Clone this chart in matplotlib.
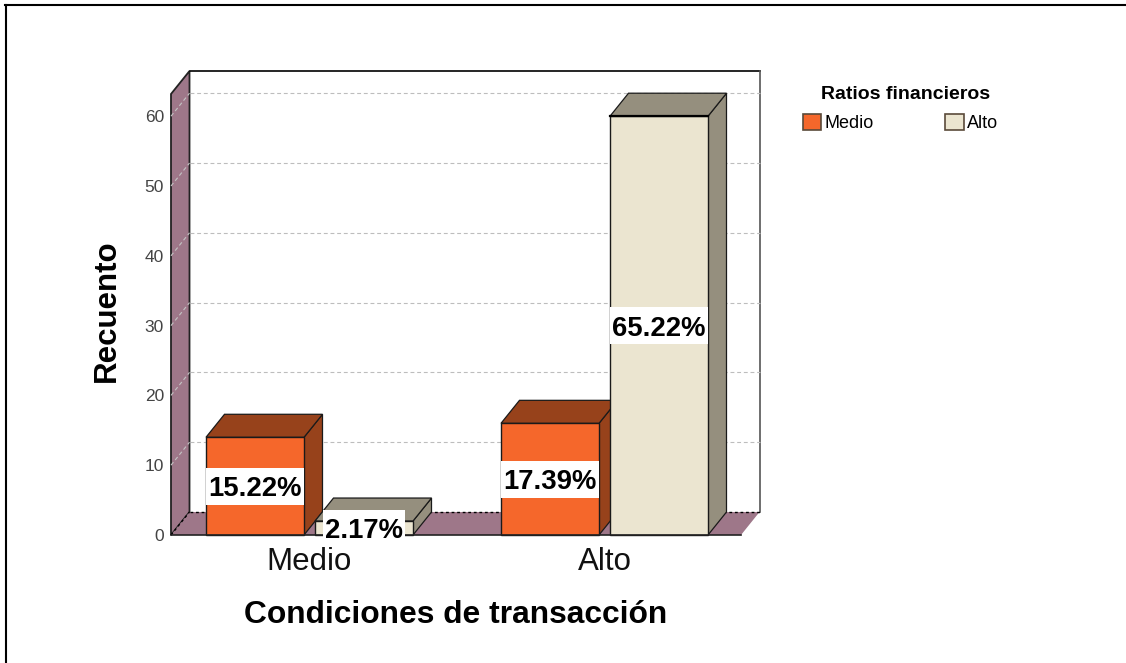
import matplotlib
matplotlib.use("Agg")
import matplotlib.pyplot as plt
from matplotlib.lines import Line2D
from matplotlib.patches import Patch, Polygon, Rectangle

plt.rcParams["font.family"] = ["Liberation Sans", "DejaVu Sans"]

#Categorias y valores
categorias = ["Medio", "Alto"]
series = ["Medio", "Alto"]
recuento_medio = [14, 2]
recuento_alto = [16, 60]
recuento = [recuento_medio, recuento_alto]
etiquetas = [["15.22%", "2.17%"], ["17.39%", "65.22%"]]
yticks = [0, 10, 20, 30, 40, 50, 60]

#Colores: frente, lado y techo de cada serie
frente = ["#F5672B", "#EBE5D0"]
lado = ["#97421B", "#958F7E"]
pared = "#9E7789"

#Medidas en unidades de los ejes
ancho = 98 / 295
sep = 109 / 295 / 2
dx = 18.5 / 295
dy = 23 / 6.98
xmin, xmax = -138.5 / 295, 431.5 / 295
ymax = 441 / 6.98

fig = plt.figure(figsize=(11.26, 6.63), dpi=100)
#Marco de la figura, solo arriba y a la izquierda
fig.add_artist(Line2D([6 / 1126, 6 / 1126], [0, 1 - 5 / 663], color="black", lw=1.5))
fig.add_artist(Line2D([5 / 1126, 1], [1 - 5 / 663, 1 - 5 / 663], color="black", lw=1.5))
ax = fig.add_axes([171 / 1126, 128 / 663, 570 / 1126, 441 / 663])
ax.set_xlim(xmin, xmax)
ax.set_ylim(0, ymax)

#Paredes y piso
ax.add_patch(Polygon([(xmin, 0), (xmin + dx, dy), (xmin + dx, ymax + dy), (xmin, ymax)],
                     fc=pared, ec="#222222", lw=1.3, clip_on=False, zorder=1))
ax.add_patch(Polygon([(xmin, 0), (xmin + dx, dy), (xmax + dx, dy), (xmax, 0)],
                     fc=pared, ec="none", clip_on=False, zorder=1))
ax.plot([xmin + dx, xmax + dx], [ymax + dy, ymax + dy], color="black", lw=1.2, clip_on=False, zorder=1)
ax.plot([xmax + dx, xmax + dx], [dy, ymax + dy], color="#555555", lw=1.2, clip_on=False, zorder=1)
ax.plot([xmin + dx, xmax + dx], [dy, dy], color="black", lw=1, ls=(0, (2, 2)), clip_on=False, zorder=2)
ax.plot([xmin, xmin + dx], [0, dy], color="black", lw=1, ls=(0, (2, 2)), clip_on=False, zorder=2)

#Lineas de la reticula, en la pared del fondo y en la lateral
for t in yticks[1:]:
    ax.plot([xmin + dx, xmax + dx], [t + dy, t + dy], color="#BDBDBD", lw=0.8,
            ls=(0, (3.5, 2.5)), clip_on=False, zorder=2)
    ax.plot([xmin, xmin + dx], [t, t + dy], color="#C4C4C4", lw=0.8,
            ls=(0, (3.5, 2.5)), clip_on=False, zorder=2)

#Barras en 3D
z = 3
for i in range(len(categorias)):
    for j in range(len(series)):
        v = recuento[i][j]
        x0 = i + (j - 0.5) * sep * 2 - ancho / 2
        x1 = x0 + ancho
        ax.add_patch(Polygon([(x1, 0), (x1 + dx, dy), (x1 + dx, v + dy), (x1, v)],
                             fc=lado[j], ec="#1A1A1A", lw=0.9, clip_on=False, zorder=z))
        ax.add_patch(Polygon([(x0, v), (x0 + dx, v + dy), (x1 + dx, v + dy), (x1, v)],
                             fc=lado[j], ec="#1A1A1A", lw=0.9, clip_on=False, zorder=z))
        ax.add_patch(Rectangle((x0, 0), ancho, v, fc=frente[j], ec="#1A1A1A", lw=1.0,
                               clip_on=False, zorder=z))
        #El borde superior de la barra mas alta se ve mas grueso
        if v == max(recuento_alto):
            ax.plot([x0, x1], [v, v], color="black", lw=1.6, clip_on=False, zorder=z)
        z += 1

#Etiquetas de porcentaje con su caja blanca
for i in range(len(categorias)):
    for j in range(len(series)):
        xc = i + (j - 0.5) * sep * 2
        yc = recuento[i][j] / 2
        w = 16.4 * len(etiquetas[i][j]) / 295
        h = 37 / 6.98
        ax.add_patch(Rectangle((xc - w / 2, yc - h / 2), w, h, fc="white", ec="none",
                               clip_on=False, zorder=19))
        ax.text(xc, yc, etiquetas[i][j], ha="center", va="center_baseline",
                fontsize=19.8, fontweight="bold", color="black", zorder=20, clip_on=False)

#Ejes
for s in ["top", "right", "left"]:
    ax.spines[s].set_visible(False)
ax.spines["bottom"].set_color("#222222")
ax.spines["bottom"].set_linewidth(1.2)
ax.spines["bottom"].set_zorder(15)
ax.set_xticks(range(len(categorias)))
ax.set_xticklabels(categorias, fontsize=22.5, color="#111111")
ax.set_yticks(yticks)
ax.set_yticklabels([str(t) for t in yticks], fontsize=12.5, color="#444444")
ax.tick_params(axis="both", length=0)
ax.tick_params(axis="x", pad=9)
ax.tick_params(axis="y", pad=5)
ax.set_xlabel("Condiciones de transacción", fontsize=22.9, fontweight="bold", labelpad=16.5)
ax.set_ylabel("Recuento", fontsize=22.5, fontweight="bold")
ax.yaxis.set_label_coords(-0.087, 0.508)

#Leyenda
manijas = [Patch(fc=frente[k], ec="#5A4A3A", lw=1.2) for k in range(len(series))]
ley = fig.legend(manijas, series, title="Ratios financieros", ncols=2, frameon=False,
                 fontsize=13, title_fontproperties={"weight": "bold", "size": 14},
                 loc="upper left", bbox_to_anchor=(796 / 1126, 1 - 79 / 663),
                 handlelength=1.0, handleheight=1.0, handletextpad=0.2, columnspacing=3.95,
                 borderaxespad=0, labelspacing=0.6)
ley.get_title().set_position((5, 0))

fig.savefig("out.png", dpi=100)
